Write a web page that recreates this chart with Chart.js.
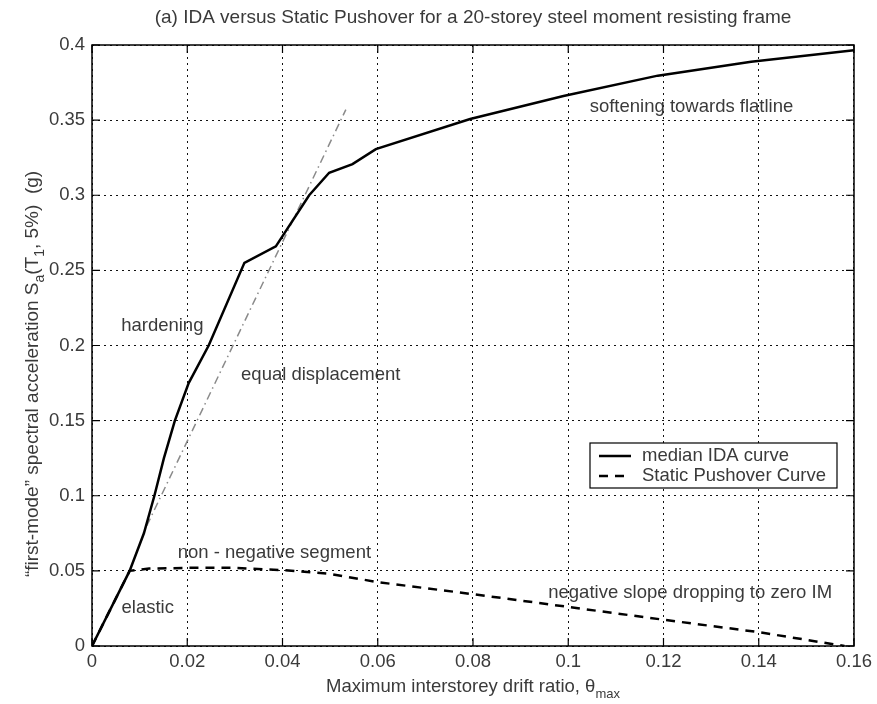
<!DOCTYPE html>
<html>
<head>
<meta charset="utf-8">
<script src="https://cdn.jsdelivr.net/npm/chart.js@4.4.1/dist/chart.umd.min.js"></script>
<style>
  html, body { margin: 0; padding: 0; background: #fff; }
  #wrap { width: 877px; height: 704px; position: relative; }
</style>
</head>
<body>
<div id="wrap"><canvas id="ida"></canvas></div>
<script>
// Curvas (drift máximo vs Sa)
const idaDrift = [0, 0.0079, 0.0109, 0.0131, 0.0151, 0.0174, 0.0203, 0.0245, 0.032, 0.0386, 0.0456, 0.0498, 0.0547, 0.0596, 0.0794, 0.099, 0.1188, 0.1384, 0.16];
const idaSa    = [0, 0.05, 0.075, 0.1, 0.125, 0.15, 0.175, 0.2, 0.255, 0.266, 0.3, 0.315, 0.3207, 0.3307, 0.3507, 0.366, 0.3796, 0.3889, 0.3965];

const pushDrift = [0, 0.0079, 0.012, 0.02, 0.03, 0.04, 0.05, 0.06, 0.08, 0.1, 0.12, 0.14, 0.158];
const pushSa    = [0, 0.05, 0.0515, 0.052, 0.052, 0.0505, 0.048, 0.0425, 0.0345, 0.026, 0.0175, 0.0092, 0];

const eqDrift = [0.0115, 0.0533];
const eqSa    = [0.08, 0.357];

const xTicks = [0, 0.02, 0.04, 0.06, 0.08, 0.1, 0.12, 0.14, 0.16];
const xTickLabels = ['0', '0.02', '0.04', '0.06', '0.08', '0.1', '0.12', '0.14', '0.16'];
const yTicks = [0, 0.05, 0.1, 0.15, 0.2, 0.25, 0.3, 0.35, 0.4];
const yTickLabels = ['0', '0.05', '0.1', '0.15', '0.2', '0.25', '0.3', '0.35', '0.4'];

const seriesNames = ['median IDA curve', 'Static Pushover Curve'];

// Textos dentro del gráfico: [texto, x, y, alineación]
const notes = [
    ['softening towards flatline', 0.1045, 0.3585, 'left'],
    ['hardening', 0.0234, 0.2129, 'right'],
    ['equal displacement', 0.0313, 0.1807, 'left'],
    ['non - negative segment', 0.018, 0.0618, 'left'],
    ['elastic', 0.0062, 0.0251, 'left'],
    ['negative slope dropping to zero IM', 0.1554, 0.0351, 'right']
];

const FONT = '"Liberation Sans", Arial, sans-serif';
const INK = '#3a3a3a';
const TXT = 18.5;

const toXY = (xs, ys) => xs.map((x, i) => ({ x: x, y: ys[i] }));

// escribe texto con subíndices, partes = [[texto, esSub], ...]
function richText(ctx, parts, x, y, size) {
    let widths = parts.map(p => {
        ctx.font = (p[1] ? Math.round(size * 0.72) : size) + 'px ' + FONT;
        return ctx.measureText(p[0]).width;
    });
    let total = widths.reduce((a, b) => a + b, 0);
    let cx = x - total / 2;
    ctx.textAlign = 'left';
    ctx.textBaseline = 'middle';
    parts.forEach((p, i) => {
        ctx.font = (p[1] ? Math.round(size * 0.72) : size) + 'px ' + FONT;
        ctx.fillText(p[0], cx, p[1] ? y + size * 0.38 : y);
        cx += widths[i];
    });
}

const decor = {
    id: 'decor',
    afterDatasetsDraw(chart) {
        const ctx = chart.ctx;
        const a = chart.chartArea;
        const xs = chart.scales.x, ys = chart.scales.y;
        ctx.save();

        // marco y marcas hacia dentro (estilo matlab)
        ctx.strokeStyle = '#000';
        ctx.lineWidth = 1.5;
        ctx.strokeRect(a.left, a.top, a.right - a.left, a.bottom - a.top);
        ctx.lineWidth = 1.2;
        ctx.beginPath();
        xTicks.forEach(v => {
            const px = xs.getPixelForValue(v);
            ctx.moveTo(px, a.bottom); ctx.lineTo(px, a.bottom - 8);
            ctx.moveTo(px, a.top); ctx.lineTo(px, a.top + 8);
        });
        yTicks.forEach(v => {
            const py = ys.getPixelForValue(v);
            ctx.moveTo(a.left, py); ctx.lineTo(a.left + 8, py);
            ctx.moveTo(a.right, py); ctx.lineTo(a.right - 8, py);
        });
        ctx.stroke();

        // anotaciones
        ctx.fillStyle = INK;
        ctx.font = TXT + 'px ' + FONT;
        ctx.textBaseline = 'middle';
        notes.forEach(n => {
            ctx.textAlign = n[3];
            ctx.fillText(n[0], xs.getPixelForValue(n[1]), ys.getPixelForValue(n[2]));
        });

        // leyenda
        const lx = a.right - 264, ly = a.bottom - 203, lw = 247, lh = 45;
        ctx.fillStyle = '#fff';
        ctx.fillRect(lx, ly, lw, lh);
        ctx.strokeStyle = '#000';
        ctx.lineWidth = 1.2;
        ctx.strokeRect(lx, ly, lw, lh);
        chart.data.datasets.slice(0, 2).forEach((ds, i) => {
            const yy = ly + 13 + i * 20;
            ctx.strokeStyle = ds.borderColor;
            ctx.lineWidth = ds.borderWidth;
            ctx.setLineDash(ds.borderDash || []);
            ctx.beginPath();
            ctx.moveTo(lx + 9, yy); ctx.lineTo(lx + 41, yy);
            ctx.stroke();
            ctx.setLineDash([]);
            ctx.fillStyle = INK;
            ctx.font = TXT + 'px ' + FONT;
            ctx.textAlign = 'left';
            ctx.fillText(seriesNames[i], lx + 52, yy);
        });

        // títulos
        const midX = (a.left + a.right) / 2;
        ctx.fillStyle = INK;
        ctx.font = '19px ' + FONT;
        ctx.textAlign = 'center';
        ctx.fillText('(a) IDA versus Static Pushover for a 20-storey steel moment resisting frame', midX, 18);

        richText(ctx, [['Maximum interstorey drift ratio, \u03b8', false], ['max', true]], midX, 687, TXT);

        ctx.save();
        ctx.translate(33, 374);
        ctx.rotate(-Math.PI / 2);
        richText(ctx, [['\u201cfirst-mode\u201d spectral acceleration S', false], ['a', true], ['(T', false], ['1', true], [', 5%)  (g)', false]], 0, 0, 19);
        ctx.restore();

        ctx.restore();
    }
};

new Chart(document.getElementById('ida'), {
    type: 'line',
    data: {
        datasets: [{
            label: seriesNames[0],
            data: toXY(idaDrift, idaSa),
            borderColor: '#000',
            borderWidth: 2.5,
            pointRadius: 0,
            tension: 0
        }, {
            label: seriesNames[1],
            data: toXY(pushDrift, pushSa),
            borderColor: '#000',
            borderWidth: 2.5,
            borderDash: [9, 7],
            pointRadius: 0,
            tension: 0
        }, {
            label: 'equal displacement',
            data: toXY(eqDrift, eqSa),
            borderColor: '#8a8a8a',
            borderWidth: 1.5,
            borderDash: [8, 4, 1.5, 4],
            pointRadius: 0
        }]
    },
    options: {
        responsive: true,
        maintainAspectRatio: false,
        animation: false,
        layout: { padding: { top: 45, right: 20, left: 0, bottom: 0 } },
        plugins: {
            legend: { display: false },
            tooltip: { enabled: false }
        },
        scales: {
            x: {
                type: 'linear',
                min: 0,
                max: 0.16,
                afterBuildTicks: s => { s.ticks = xTicks.map(v => ({ value: v })); },
                afterFit: s => { s.height = 58; },
                grid: { color: '#111', lineWidth: 1, drawTicks: false },
                border: { display: false, dash: [2, 4] },
                ticks: {
                    padding: 5,
                    color: INK,
                    font: { family: FONT, size: TXT },
                    maxRotation: 0,
                    callback: (v, i) => xTickLabels[i]
                }
            },
            y: {
                min: 0,
                max: 0.4,
                afterBuildTicks: s => { s.ticks = yTicks.map(v => ({ value: v })); },
                afterFit: s => { s.width = 92; },
                grid: { color: '#111', lineWidth: 1, drawTicks: false },
                border: { display: false, dash: [2, 4] },
                ticks: {
                    padding: 7,
                    color: INK,
                    font: { family: FONT, size: TXT },
                    callback: (v, i) => yTickLabels[i]
                }
            }
        }
    },
    plugins: [decor]
});
</script>
</body>
</html>
